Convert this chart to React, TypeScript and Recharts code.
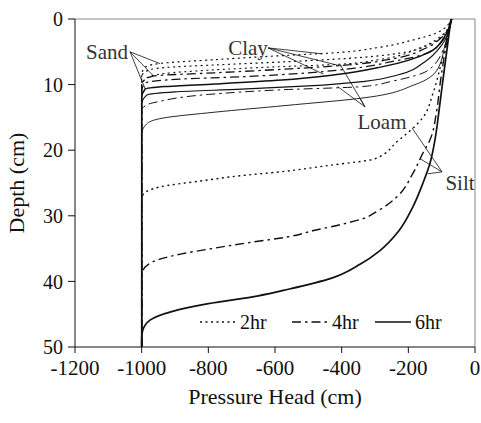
import {
  LineChart,
  Line,
  XAxis,
  YAxis,
  ReferenceLine,
  ReferenceDot,
} from "recharts";

type Pt = { d: number; h: number };

const FONT = "'Liberation Serif', 'DejaVu Serif', serif";
const INK = "#111";

// depth (cm) vs pressure head (cm)
const sand2: Pt[] = [
  { d: 0, h: -70 }, { d: 2.1, h: -114 }, { d: 3.2, h: -186 }, { d: 4.3, h: -285 },
  { d: 5.2, h: -435 }, { d: 5.6, h: -585 }, { d: 6.2, h: -780 }, { d: 6.8, h: -950 },
  { d: 7.4, h: -990 }, { d: 8.5, h: -1000 }, { d: 50, h: -1000 },
];
const sand4: Pt[] = [
  { d: 0, h: -70 }, { d: 2.8, h: -100 }, { d: 4.5, h: -150 }, { d: 6.0, h: -240 },
  { d: 7.0, h: -380 }, { d: 7.6, h: -555 }, { d: 8.2, h: -780 }, { d: 8.7, h: -966 },
  { d: 9.5, h: -995 }, { d: 10.5, h: -1000 }, { d: 50, h: -1000 },
];
const sand6: Pt[] = [
  { d: 0, h: -70 }, { d: 3, h: -95 }, { d: 5, h: -135 }, { d: 7.3, h: -280 },
  { d: 8.5, h: -420 }, { d: 9.3, h: -580 }, { d: 9.9, h: -780 }, { d: 10.3, h: -930 },
  { d: 10.7, h: -990 }, { d: 12, h: -1000 }, { d: 50, h: -1000 },
];
const clay2: Pt[] = [
  { d: 0, h: -70 }, { d: 2.5, h: -95 }, { d: 3.7, h: -130 }, { d: 5.2, h: -225 },
  { d: 6.0, h: -380 }, { d: 6.5, h: -560 }, { d: 7.0, h: -780 }, { d: 7.3, h: -900 },
  { d: 7.8, h: -980 }, { d: 8.8, h: -1000 }, { d: 50, h: -1000 },
];
const clay4: Pt[] = [
  { d: 0, h: -70 }, { d: 3.5, h: -100 }, { d: 5.5, h: -160 }, { d: 6.5, h: -250 },
  { d: 7.5, h: -360 }, { d: 8.2, h: -500 }, { d: 8.8, h: -700 }, { d: 9.2, h: -900 },
  { d: 9.8, h: -990 }, { d: 11, h: -1000 }, { d: 50, h: -1000 },
];
const clay6: Pt[] = [
  { d: 0, h: -70 }, { d: 4, h: -100 }, { d: 6.5, h: -150 }, { d: 8.5, h: -230 },
  { d: 9.5, h: -330 }, { d: 10.2, h: -500 }, { d: 10.7, h: -700 }, { d: 11.1, h: -900 },
  { d: 11.6, h: -985 }, { d: 13, h: -1000 }, { d: 50, h: -1000 },
];
const loam2: Pt[] = [
  { d: 0, h: -70 }, { d: 2.5, h: -100 }, { d: 4.5, h: -170 }, { d: 6.2, h: -290 },
  { d: 6.9, h: -405 }, { d: 7.3, h: -600 }, { d: 7.8, h: -800 }, { d: 8.3, h: -930 },
  { d: 9, h: -985 }, { d: 10, h: -1000 }, { d: 50, h: -1000 },
];
const loam4: Pt[] = [
  { d: 0, h: -72 }, { d: 4, h: -90 }, { d: 7.8, h: -140 }, { d: 9.5, h: -250 },
  { d: 10.3, h: -337 }, { d: 10.8, h: -585 }, { d: 11.5, h: -800 }, { d: 12.6, h: -950 },
  { d: 13.2, h: -990 }, { d: 14.5, h: -1000 }, { d: 50, h: -1000 },
];
const loam6: Pt[] = [
  { d: 0, h: -72 }, { d: 4, h: -90 }, { d: 7.8, h: -114 }, { d: 10, h: -180 },
  { d: 12, h: -330 }, { d: 13.2, h: -570 }, { d: 14.2, h: -780 }, { d: 15.1, h: -936 },
  { d: 16, h: -985 }, { d: 17.5, h: -1000 }, { d: 50, h: -1000 },
];
const silt2: Pt[] = [
  { d: 0, h: -70 }, { d: 2.7, h: -81 }, { d: 6.3, h: -99 }, { d: 11.3, h: -126 },
  { d: 15, h: -156 }, { d: 18.7, h: -234 }, { d: 21.3, h: -300 }, { d: 22.3, h: -435 },
  { d: 23.3, h: -585 }, { d: 23.9, h: -705 }, { d: 24.7, h: -825 }, { d: 25.6, h: -945 },
  { d: 26.8, h: -996 }, { d: 27.8, h: -1000 }, { d: 50, h: -1000 },
];
const silt4: Pt[] = [
  { d: 0, h: -72 }, { d: 5, h: -90 }, { d: 10, h: -105 }, { d: 14, h: -115 },
  { d: 18.4, h: -135 }, { d: 20.4, h: -156 }, { d: 23.5, h: -186 }, { d: 27.1, h: -234 },
  { d: 29.2, h: -290 }, { d: 30.5, h: -340 }, { d: 31.3, h: -400 }, { d: 32.2, h: -480 },
  { d: 33.2, h: -560 }, { d: 34.1, h: -680 }, { d: 35.0, h: -790 }, { d: 35.8, h: -880 },
  { d: 36.6, h: -945 }, { d: 37.4, h: -980 }, { d: 38.5, h: -997 }, { d: 39.5, h: -1000 },
  { d: 50, h: -1000 },
];
const silt6: Pt[] = [
  { d: 0, h: -72 }, { d: 5, h: -85 }, { d: 10, h: -98 }, { d: 14, h: -108 },
  { d: 18.4, h: -120 }, { d: 22, h: -135 }, { d: 25, h: -156 }, { d: 28.6, h: -186 },
  { d: 32.4, h: -230 }, { d: 35.3, h: -285 }, { d: 37.4, h: -345 }, { d: 39.5, h: -430 },
  { d: 41.2, h: -560 }, { d: 42.2, h: -650 }, { d: 43.4, h: -800 }, { d: 44.6, h: -910 },
  { d: 45.9, h: -975 }, { d: 47.5, h: -997 }, { d: 48.6, h: -1000 }, { d: 50, h: -1000 },
];

const xTicks = [-1200, -1000, -800, -600, -400, -200, 0];
const yTicks = [0, 10, 20, 30, 40, 50];

const DOT = "2 3.5";
const DASHDOT = "9 4 2.5 4";

const series = [
  { data: sand2, dash: DOT, w: 1.2 },
  { data: clay2, dash: DOT, w: 1.2 },
  { data: loam2, dash: DOT, w: 1.1 },
  { data: sand4, dash: DASHDOT, w: 1.3 },
  { data: clay4, dash: DASHDOT, w: 1.2 },
  { data: loam4, dash: DASHDOT, w: 1.0 },
  { data: sand6, dash: undefined, w: 1.5 },
  { data: clay6, dash: undefined, w: 1.2 },
  { data: loam6, dash: undefined, w: 0.9 },
  { data: silt2, dash: DOT, w: 1.4 },
  { data: silt4, dash: DASHDOT, w: 1.4 },
  { data: silt6, dash: undefined, w: 1.7 },
];

const legendItems = [
  { name: "2hr", dash: DOT },
  { name: "4hr", dash: DASHDOT },
  { name: "6hr", dash: undefined },
];

// annotation labels and leader lines (data coordinates)
const labels = [
  { text: "Sand", h: -1104, d: 5.0 },
  { text: "Clay", h: -681, d: 4.4 },
  { text: "Loam", h: -279, d: 15.7 },
  { text: "Silt", h: -45, d: 25.0 },
];
const leaders: [Pt, Pt][] = [
  [{ h: -1035, d: 5.0 }, { h: -945, d: 6.8 }],
  [{ h: -1035, d: 5.0 }, { h: -966, d: 8.6 }],
  [{ h: -1035, d: 5.0 }, { h: -990, d: 10.6 }],
  [{ h: -621, d: 4.4 }, { h: -460, d: 5.3 }],
  [{ h: -621, d: 4.4 }, { h: -400, d: 7.2 }],
  [{ h: -621, d: 4.4 }, { h: -455, d: 8.4 }],
  [{ h: -330, d: 13.4 }, { h: -405, d: 6.9 }],
  [{ h: -330, d: 13.4 }, { h: -412, d: 10.3 }],
  [{ h: -330, d: 13.4 }, { h: -345, d: 12.1 }],
  [{ h: -99, d: 23.3 }, { h: -189, d: 16.6 }],
  [{ h: -99, d: 23.3 }, { h: -165, d: 21.3 }],
  [{ h: -99, d: 23.3 }, { h: -142, d: 23.6 }],
];

function LegendBox() {
  return (
    <svg width={270} height={30} style={{ display: "block" }}>
      {legendItems.map((it, i) => {
        const x0 = [0, 92, 175][i];
        return (
          <g key={it.name}>
            <line x1={x0} x2={x0 + 36} y1={15} y2={15} stroke={INK} strokeWidth={1.4}
              strokeDasharray={it.dash} />
            <text x={x0 + 40} y={22} fontFamily={FONT} fontSize={20} fill={INK}>
              {it.name}
            </text>
          </g>
        );
      })}
    </svg>
  );
}

export default function App() {
  const xTickStyle = { fontSize: 21, fill: INK, fontFamily: FONT };
  const yTickStyle = { fontSize: 20, fill: INK, fontFamily: FONT };
  return (
    <div style={{ position: "absolute", left: 0, top: 0, width: 481, height: 423, background: "#fff", fontFamily: FONT }}>
      <LineChart
        width={481}
        height={423}
        layout="vertical"
        margin={{ top: 19, right: 6, left: 0, bottom: 16 }}
      >
        <XAxis
          type="number"
          dataKey="h"
          domain={[-1200, 0]}
          ticks={xTicks}
          allowDataOverflow
          height={60}
          tickSize={6}
          tickMargin={7}
          tick={xTickStyle}
          axisLine={{ stroke: INK }}
          tickLine={{ stroke: INK }}
          label={{
            content: (p: any) => {
              const vb = p.viewBox;
              return (
                <text x={vb.x + vb.width / 2} y={vb.y + 57} textAnchor="middle"
                  fontFamily={FONT} fontSize={22} fill={INK}>
                  Pressure Head (cm)
                </text>
              );
            },
          }}
        />
        <YAxis
          type="number"
          dataKey="d"
          domain={[0, 50]}
          ticks={yTicks}
          allowDataOverflow
          width={75}
          tickSize={7}
          tickMargin={5}
          tick={yTickStyle}
          axisLine={{ stroke: INK }}
          tickLine={{ stroke: INK }}
          label={{
            content: (p: any) => {
              const vb = p.viewBox;
              const cx = vb.x + 19;
              const cy = vb.y + vb.height / 2;
              return (
                <text x={cx} y={cy} transform={`rotate(-90 ${cx} ${cy})`} textAnchor="middle"
                  dominantBaseline="middle" fontFamily={FONT} fontSize={22} fill={INK}>
                  Depth (cm)
                </text>
              );
            },
          }}
        />
        <ReferenceLine y={0} stroke="#888" strokeWidth={1} />
        <ReferenceLine x={0} stroke="#888" strokeWidth={1} />
        {series.map((s, i) => (
          <Line
            key={i}
            data={s.data}
            dataKey="h"
            type="monotone"
            stroke={INK}
            strokeWidth={s.w}
            strokeDasharray={s.dash}
            dot={false}
            activeDot={false}
            isAnimationActive={false}
          />
        ))}
        {leaders.map((seg, i) => (
          <ReferenceLine
            key={"l" + i}
            segment={[{ x: seg[0].h, y: seg[0].d }, { x: seg[1].h, y: seg[1].d }]}
            stroke={INK}
            strokeWidth={0.8}
            ifOverflow="visible"
          />
        ))}
        {labels.map((l) => (
          <ReferenceDot
            key={l.text}
            x={l.h}
            y={l.d}
            r={0}
            stroke="none"
            fill="none"
            ifOverflow="visible"
            label={{ value: l.text, position: "center", fontSize: 21, fill: "#333", fontFamily: FONT }}
          />
        ))}
      </LineChart>
      <div style={{ position: "absolute", left: 200, top: 307 }}>
        <LegendBox />
      </div>
    </div>
  );
}
